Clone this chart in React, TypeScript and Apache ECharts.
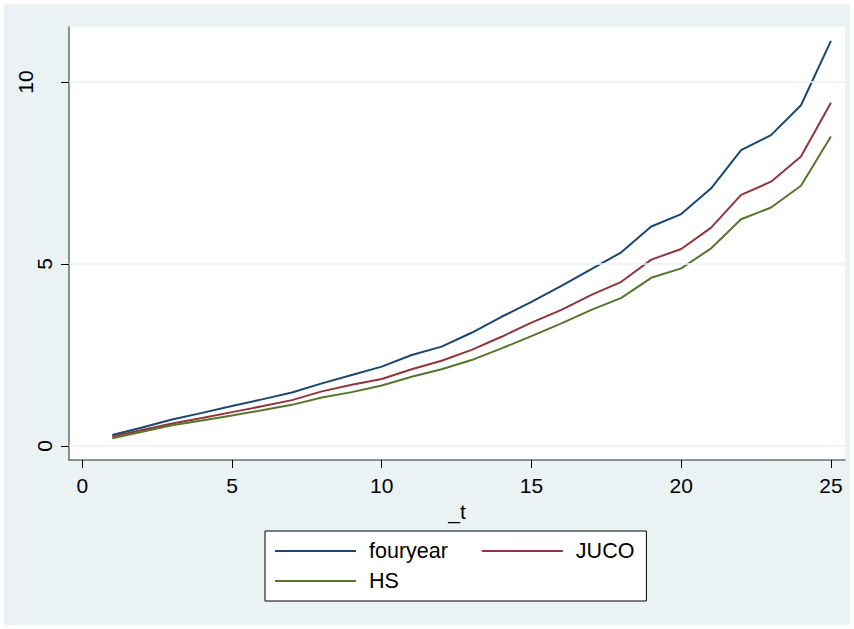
import React, { useEffect, useRef } from "react";
import * as echarts from "echarts";

const tValues = [1, 2, 3, 4, 5, 6, 7, 8, 9, 10, 11, 12, 13, 14, 15, 16, 17, 18, 19, 20, 21, 22, 23, 24, 25];
const fouryear = [0.30, 0.51, 0.73, 0.91, 1.10, 1.28, 1.47, 1.72, 1.95, 2.18, 2.50, 2.73, 3.11, 3.55, 3.96, 4.40, 4.86, 5.32, 6.03, 6.37, 7.08, 8.13, 8.54, 9.36, 11.13];
const juco = [0.26, 0.44, 0.62, 0.77, 0.93, 1.09, 1.26, 1.50, 1.68, 1.84, 2.11, 2.34, 2.64, 3.00, 3.39, 3.74, 4.15, 4.51, 5.12, 5.41, 6.00, 6.90, 7.26, 7.95, 9.43];
const hs = [0.21, 0.39, 0.57, 0.70, 0.84, 0.98, 1.13, 1.33, 1.48, 1.66, 1.90, 2.11, 2.36, 2.68, 3.02, 3.37, 3.74, 4.07, 4.62, 4.88, 5.43, 6.23, 6.55, 7.15, 8.50];
const xTicks = [0, 5, 10, 15, 20, 25];
const yTicks = [0, 5, 10];
const seriesNames = ["fouryear", "JUCO", "HS"];
const seriesColors = ["#1a476f", "#90353b", "#55752f"];

const FONT = "'Liberation Sans', Arial, sans-serif";

export default function App() {
  const ref = useRef<HTMLDivElement>(null);
  useEffect(() => {
    document.body.style.margin = "0";
    const chart = echarts.init(ref.current!, null, { renderer: "svg" });
    const values = [fouryear, juco, hs];
    const lineSeries = seriesNames.map((name, i) => ({
      name,
      type: "line",
      data: tValues.map((t, j) => [t, values[i][j]]),
      showSymbol: false,
      symbol: "none",
      lineStyle: { color: seriesColors[i], width: 2 },
      itemStyle: { color: seriesColors[i] },
      z: 3,
    }));
    chart.setOption({
      animation: false,
      backgroundColor: "#ffffff",
      textStyle: { fontFamily: FONT },
      graphic: [
        {
          type: "rect",
          shape: { x: 4, y: 4, width: 846, height: 621 },
          style: { fill: "#eaf2f3" },
          z: -10,
          silent: true,
        },
      ],
      grid: {
        left: 69,
        top: 27,
        right: 9,
        bottom: 169,
        show: true,
        backgroundColor: "#ffffff",
        borderWidth: 0,
      },
      xAxis: {
        type: "value",
        min: -0.444,
        max: 25.47,
        name: "_t",
        nameLocation: "middle",
        nameGap: 36,
        nameTextStyle: { fontFamily: FONT, fontSize: 21, color: "#000" },
        axisLine: { show: true, onZero: false, lineStyle: { color: "#6e6e6e", width: 1.5 } },
        axisTick: { show: true, customValues: xTicks, length: 8, lineStyle: { color: "#000", width: 1 } },
        axisLabel: { customValues: xTicks, margin: 15, fontFamily: FONT, fontSize: 21, color: "#000" },
        splitLine: { show: false },
      },
      yAxis: {
        type: "value",
        min: -0.385,
        max: 11.51,
        axisLine: { show: true, onZero: false, lineStyle: { color: "#6e6e6e", width: 1.5 } },
        axisTick: { show: true, customValues: yTicks, length: 8, lineStyle: { color: "#000", width: 1 } },
        axisLabel: {
          customValues: yTicks,
          rotate: 90,
          margin: 14,
          fontFamily: FONT,
          fontSize: 21,
          color: "#000",
          formatter: (v: number) => (v === 10 ? "{t|10}" : "{n|" + v + "}"),
          rich: {
            t: { fontFamily: FONT, fontSize: 21, color: "#000", padding: [0, 0, 19, 0] },
            n: { fontFamily: FONT, fontSize: 21, color: "#000" },
          },
        },
        splitLine: { show: false },
      },
      legend: [
        {
          data: ["fouryear", "JUCO"],
          left: 265,
          top: 531,
          orient: "horizontal",
          padding: [8, 12, 38, 10],
          itemWidth: 81,
          itemHeight: 14,
          itemGap: 34,
          borderColor: "#000",
          borderWidth: 1,
          backgroundColor: "#ffffff",
          icon: "path://M0,0 L81,0 L81,2 L0,2 Z",
          textStyle: { fontFamily: FONT, fontSize: 21.5, color: "#000", lineHeight: 24, padding: [0, 0, 0, 8] },
          selectedMode: false,
        },
        {
          data: ["HS"],
          left: 265,
          top: 569,
          orient: "horizontal",
          padding: [0, 0, 0, 10],
          itemWidth: 81,
          itemHeight: 14,
          icon: "path://M0,0 L81,0 L81,2 L0,2 Z",
          textStyle: { fontFamily: FONT, fontSize: 21.5, color: "#000", lineHeight: 24, padding: [0, 0, 0, 8] },
          selectedMode: false,
        },
      ],
      series: [
        {
          name: "gridlines",
          type: "line",
          data: [],
          z: 1,
          silent: true,
          markLine: {
            silent: true,
            symbol: ["none", "none"],
            label: { show: false },
            lineStyle: { color: "#eaf2f3", width: 1.5, type: "solid" },
            data: yTicks.map((y) => ({ yAxis: y })),
          },
        },
        ...lineSeries,
      ],
    });
    return () => chart.dispose();
  }, []);
  return <div ref={ref} style={{ width: 854, height: 629 }} />;
}
